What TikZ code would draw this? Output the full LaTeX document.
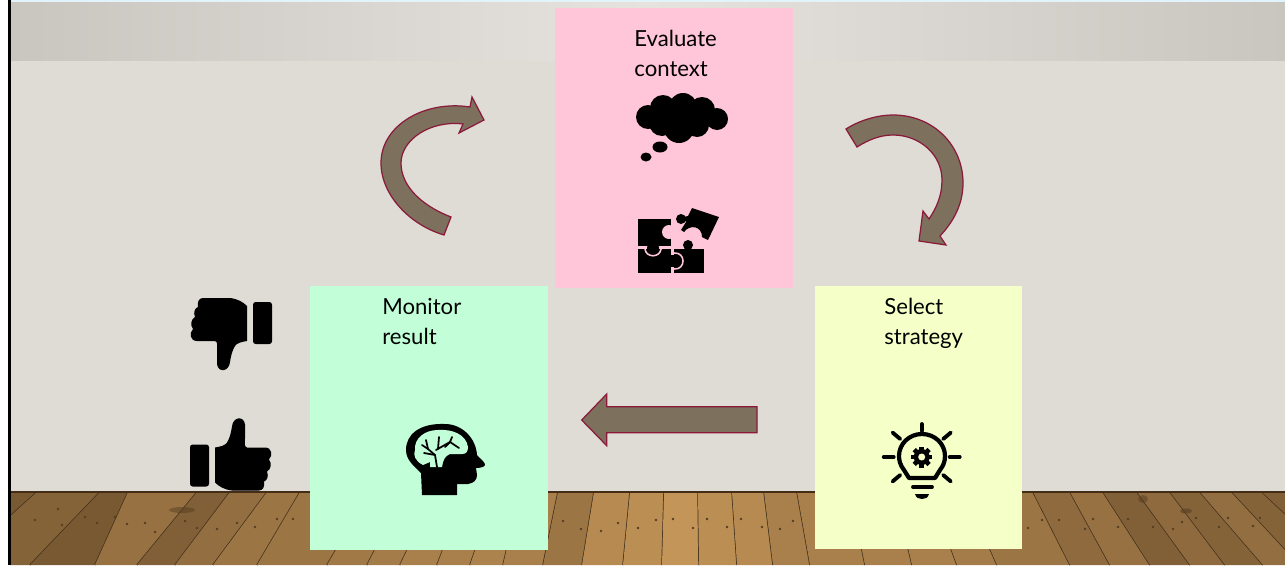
\documentclass[tikz,border=0pt]{standalone}
\usepackage{fontspec}
\usetikzlibrary{calc}
\setmainfont{Lato}
\definecolor{wallcolor}{HTML}{DFDCD6}
\definecolor{bandedge}{HTML}{C9C5BF}
\definecolor{bandmid}{HTML}{E6E3DF}
\definecolor{pinkbox}{HTML}{FFC5D8}
\definecolor{greenbox}{HTML}{C2FFD8}
\definecolor{yellowbox}{HTML}{F5FFC8}
\definecolor{arrowfill}{HTML}{7D705D}
\definecolor{arrowline}{HTML}{8B1A3A}
\definecolor{woodlight}{HTML}{C49558}
\definecolor{wooddark}{HTML}{6A4E2C}
\tikzset{
  stepcard/.style={anchor=north west,inner sep=0pt,outer sep=0pt},
  steptext/.style={anchor=north west,inner sep=0pt,align=left,font=\fontsize{12.6}{16.8}\selectfont},
  flowarrow/.style={fill=arrowfill,draw=arrowline,line width=0.7pt,line join=miter},
  rayline/.style={line width=2.2pt,line cap=round}
}
\newcommand{\thumbshape}{
  \fill (203,298) -- (230,298) .. controls (238,299) and (243,302) .. (247,306) -- (247,341)
    .. controls (241,342) and (237,343) .. (235,346) .. controls (232,351) and (231,356) .. (230,362)
    .. controls (229,372) and (218,373) .. (217,364) -- (217,350) .. controls (217,345) and (218,342) .. (215,341)
    -- (197,341) .. controls (190,341) and (189,333) .. (193,329) .. controls (190,325) and (191,319) .. (195,317)
    .. controls (193,312) and (195,308) .. (198,307) .. controls (197,302) and (199,298) .. (203,298) -- cycle;
  \fill[rounded corners=1.5pt] (253,302) rectangle (272,344);
}
\begin{document}
\begin{tikzpicture}[x=0.02cm,y=-0.02cm]
   \useasboundingbox (0,0) rectangle (1285,565);
   \fill [white] (0,0) rectangle (1285,565);
   \fill [wallcolor] (10,60) rectangle (1285,492);
   \shade [left color=bandedge,right color=bandedge,middle color=bandmid] (10,2) rectangle (1285,60);
   \fill [black!10!cyan!12!white] (8,0) rectangle (1285,2);
   \begin{scope}
      \clip (10,492) rectangle (1285,565);
      \fill [woodlight] (10,492) rectangle (1285,565);
      \foreach \xt/\xb/\wc [remember=\xt as \xp (initially -60),remember=\xb as \bp (initially -120)] in
        {37/-44/15,100/30/30,128/95/15,197/137/50,230/175/25,267/213/45,300/257/55,370/327/55,405/367/60,
         435/400/65,465/437/70,495/470/70,520/503/75,558/543/70,594/582/55,630/623/85,664/662/90,698/699/100,
         732/737/90,764/773/85,797/810/70,850/865/70,895/912/70,930/957/70,965/997/65,1033/1070/55,1070/1110/40,
         1103/1150/50,1137/1190/25,1170/1225/40,1200/1263/30,1232/1300/45,1262/1340/30,1300/1400/25}
      {
         \fill [woodlight!\wc!wooddark] (\xp,492) -- (\xt,492) -- (\xb,565) -- (\bp,565) -- cycle;
         \draw [wooddark!60!black,line width=0.8pt] (\xt,492) -- (\xb,565);
      }
      \foreach \kx/\ky in {58/509,35/520,62/525,85/517,97/523,115/517,127/524,145/523,155/532,185/521,197/528,
         217/529,237/523,255/527,277/519,293/519,563/521,581/529,601/531,618/523,638/528,656/520,673/519,693/528,
         707/519,727/527,741/519,762/527,780/529,793/521,1042/520,1059/520,1028/528,1085/529,1093/519,1118/527,
         1128/519,1153/527,1173/529,1182/522,1196/518,1219/527,1228/518,1253/526,1260/518}
         \fill [wooddark!80!black] (\kx,\ky) circle (1.3);
      \fill [wooddark!80!black,opacity=0.5] (182,510) ellipse (13 and 3);
      \fill [wooddark!80!black,opacity=0.6] (1186,511) ellipse (6 and 2.5);
      \fill [wooddark!80!black,opacity=0.5] (1143,499) ellipse (5 and 4);
   \end{scope}
   \draw [black!65!brown,line width=1pt] (10,492) -- (1285,492);
   \fill [black] (8,0) rectangle (10.5,565);

   \node [stepcard,fill=pinkbox,minimum width=4.76cm,minimum height=5.6cm] (evaluate) at (555,8) {};
   \node [stepcard,fill=greenbox,minimum width=4.76cm,minimum height=5.28cm] (monitor) at (310,286) {};
   \node [stepcard,fill=yellowbox,minimum width=4.14cm,minimum height=5.26cm] (select) at (815,286) {};
   \node [steptext] (evaluatetext) at (634,30) {Evaluate\\context};
   \node [steptext] (monitortext) at (382,298) {Monitor\\result};
   \node [steptext] (selecttext) at (884,298) {Select\\strategy};

   \draw [flowarrow] (451,217) .. controls (420,205) and (401,185) .. (401,163)
      .. controls (401,140) and (430,120) .. (463,124) -- (459,133) -- (484,120) -- (472,97) -- (470,107)
      .. controls (425,100) and (381,125) .. (381,163) .. controls (381,195) and (410,225) .. (444,235) -- cycle;
   \draw [flowarrow] (846,129) .. controls (860,120) and (878,115) .. (893,115)
      .. controls (933,115) and (963,145) .. (963,183) .. controls (963,205) and (953,222) .. (940,236)
      -- (946,245) -- (919,241) -- (923,211) -- (929,219) .. controls (937,207) and (942,195) .. (942,180)
      .. controls (942,155) and (920,135) .. (893,135) .. controls (880,135) and (868,140) .. (857,147) -- cycle;
   \draw [flowarrow] (581.7,420) -- (606.7,394) -- (606.7,406.7) -- (757,406.7) -- (757,432.7) -- (606.7,432.7) -- (606.7,445.7) -- cycle;

   % cloud
   \foreach \cx/\cy/\cr in {648/117/12,663/108/13,683/107/14,702/110/13,717/119/11,662/123/13,679/128/15,697/125/12}
      \fill (\cx,\cy) circle (\cr);
   \fill (660,147) ellipse (7.5 and 5.5);
   \fill (646,157) ellipse (5.5 and 4.5);

   % puzzle
   \fill (638,219) rectangle (671,246);
   \fill [pinkbox] (669,232) circle (7);
   \fill (638,249) rectangle (671,273);
   \fill (674,249) rectangle (704,273);
   \fill (688,245) circle (5);
   \fill (653,248) circle (6);
   \draw [pinkbox,line width=0.9pt] (645,249) .. controls (646,258) and (660,258) .. (661,249);
   \fill (670,255) rectangle (676,267);
   \fill (677,261) circle (6);
   \draw [pinkbox,line width=0.9pt] (674,253) .. controls (686,252) and (686,270) .. (674,269);
   \fill (692,208) -- (719,217) -- (708,240) -- (702,237) .. controls (702,226) and (690,224) .. (684,232) -- (681,230) -- (686,222) -- (683,217) -- (688,216) -- cycle;
   \fill (681,219) circle (5);

   % thumbs
   \thumbshape
   \begin{scope}[shift={(462,788.5)},xscale=-1,yscale=-1]
      \thumbshape
   \end{scope}

   % brain
   \fill (422,495) -- (457,495) -- (457,484) -- (468,484) .. controls (474,483) and (477,480) .. (477,475)
      -- (476,468) .. controls (480,468) and (486,467) .. (485,464) .. controls (483,460) and (479,458) .. (477,455)
      .. controls (476,438) and (462,424) .. (445,424) .. controls (420,423) and (406,434) .. (406,450)
      .. controls (406,460) and (414,466) .. (421,473) -- cycle;
   \fill [greenbox] (423,465) .. controls (415,461) and (413,455) .. (415,450) .. controls (414,438) and (425,430) .. (438,430)
      .. controls (452,429) and (466,434) .. (468,447) .. controls (468,452) and (466,454) .. (462,454)
      -- (450,454) .. controls (445,456) and (443,460) .. (442,467) -- (430,467) -- (430,462) -- cycle;
   \draw [line width=1pt,line cap=round] (437,467) -- (435,455) -- (428,449) -- (426,440);
   \draw [line width=1pt,line cap=round] (435,455) -- (424,453);
   \draw [line width=1pt,line cap=round] (428,449) -- (422,445);
   \draw [line width=1pt,line cap=round] (438,449) -- (439,437);
   \draw [line width=1pt,line cap=round] (436,450) -- (450,442) -- (459,448);
   \draw [line width=1pt,line cap=round] (450,442) -- (445,447);
   \draw [line width=1pt,line cap=round] (450,442) -- (452,437);

   % bulb
   \coordinate (bulbcentre) at (921.7,457);
   \foreach \an in {0,40,140,180,220,320}
      \draw [rayline] ($(bulbcentre)+(\an:28)$) -- ($(bulbcentre)+(\an:38)$);
   \draw [rayline] (921.7,424) -- (921.7,431);
   \draw [line width=2.4pt,line join=round] (909,478) -- (904,470) .. controls (900,465) and (899,460) .. (899,456)
      .. controls (899,444) and (909,434) .. (922,434) .. controls (935,434) and (945,444) .. (945,456)
      .. controls (945,462) and (943,466) .. (940,470) -- (935,478) -- cycle;
   \foreach \an in {0,45,...,315}
      \draw [line width=2.6pt] (bulbcentre) -- ($(bulbcentre)+(\an:10.5)$);
   \fill (bulbcentre) circle (8);
   \fill [yellowbox] (bulbcentre) circle (3.5);
   \draw [rayline] (913,487) -- (932,487);
   \fill (915,494) -- (929,494) .. controls (928,498) and (925,499) .. (922,499) .. controls (919,499) and (916,498) .. (915,494) -- cycle;
\end{tikzpicture}
\end{document}
